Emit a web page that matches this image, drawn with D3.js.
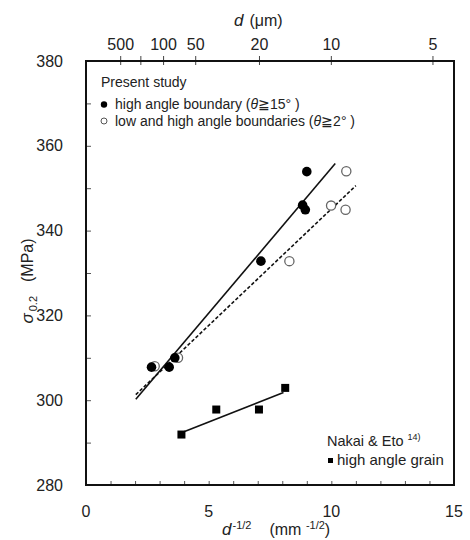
<!DOCTYPE html>
<html><head><meta charset="utf-8">
<script src="https://cdn.jsdelivr.net/npm/d3@7"></script>
<style>body{margin:0;background:#fff}svg{display:block;font-family:"Liberation Sans",Arial,sans-serif}</style>
</head><body><svg id="c" width="470" height="540"></svg>
<script>
// ---- data ----
const highX = [2.67, 3.39, 3.62, 7.13, 8.83, 8.94, 9.00];
const highY = [307.8, 307.8, 310.0, 332.8, 346.0, 344.9, 353.9];
const lowX  = [2.80, 3.75, 8.29, 9.99, 10.58, 10.61];
const lowY  = [308.0, 310.0, 332.8, 345.9, 344.9, 354.0];
const nakaiX = [3.89, 5.31, 7.05, 8.12];
const nakaiY = [291.9, 297.8, 297.8, 302.9];
const highFitX = [2.03, 10.16], highFitY = [300.2, 355.8];
const lowFitX  = [2.03, 11.0],  lowFitY  = [301.3, 350.6];
const nakaiFitX = [3.89, 8.05], nakaiFitY = [292.3, 301.8];
const xTicks = [0, 5, 10, 15];
const yTicks = [280, 300, 320, 340, 360, 380];
const topTicksUm = [500, 200, 100, 50, 20, 10, 5];
const topLabelsUm = ["500", "", "100", "50", "20", "10", "5"];

const svg = d3.select("#c");
const L = 86, R = 454, T = 61, B = 485;
const x = d3.scaleLinear().domain([0, 15]).range([L, R]);
const y = d3.scaleLinear().domain([280, 380]).range([B, T]);

// minor ticks
const xMinor = d3.range(0, 16, 1);
const yMinor = d3.range(280, 381, 10);

// bottom axis (ticks inward)
const gB = svg.append("g").attr("transform", `translate(0,${B})`)
  .call(d3.axisBottom(x).tickValues(xMinor).tickSize(-4).tickFormat(""));
gB.select(".domain").remove();
gB.selectAll("line").attr("stroke", "#555");
svg.append("g").selectAll("text").data(xTicks).join("text")
  .attr("x", d => x(d)).attr("y", 517).attr("text-anchor", "middle")
  .attr("font-size", 16).attr("fill", "#222").text(d => d);

// left axis
const gL = svg.append("g").attr("transform", `translate(${L},0)`)
  .call(d3.axisLeft(y).tickValues(yMinor).tickSize(-5).tickFormat(""));
gL.select(".domain").remove();
gL.selectAll("line").attr("stroke", "#555");
svg.append("g").selectAll("text").data(yTicks).join("text")
  .attr("x", 63).attr("y", d => y(d) + 5.5).attr("text-anchor", "end")
  .attr("font-size", 16).attr("fill", "#222").text(d => d);

// top axis: d in um -> d^-1/2 in mm^-1/2
const topPos = d => x(1 / Math.sqrt(d / 1000));
svg.append("g").selectAll("line").data(topTicksUm).join("line")
  .attr("x1", topPos).attr("x2", topPos).attr("y1", T - 5).attr("y2", T + 4)
  .attr("stroke", "#444").attr("stroke-width", 1);
svg.append("g").selectAll("text").data(topTicksUm).join("text")
  .attr("x", topPos).attr("y", 50).attr("text-anchor", "middle")
  .attr("font-size", 16).attr("fill", "#222").text((d, i) => topLabelsUm[i]);

// frame
svg.append("rect").attr("x", L).attr("y", T).attr("width", R - L).attr("height", B - T)
  .attr("fill", "none").attr("stroke", "#111").attr("stroke-width", 2);

// axis titles
const tt = svg.append("text").attr("x", 234).attr("y", 26).attr("font-size", 16).attr("fill", "#222");
tt.append("tspan").attr("font-style", "italic").attr("font-size", 17).text("d");
tt.append("tspan").attr("dx", 6).text("(μm)");

const xt = svg.append("text").attr("x", 222).attr("y", 535).attr("font-size", 16).attr("fill", "#222");
xt.append("tspan").attr("font-style", "italic").attr("font-size", 17).text("d");
xt.append("tspan").attr("font-size", 11).attr("dy", -6).attr("dx", 1).text("-1/2");
xt.append("tspan").attr("font-size", 16).attr("dy", 6).attr("dx", 18).text("(mm ");
xt.append("tspan").attr("font-size", 11).attr("dy", -6).text("-1/2");
xt.append("tspan").attr("font-size", 16).attr("dy", 6).text(")");

const yt = svg.append("text").attr("transform", "translate(33,281) rotate(-90)")
  .attr("text-anchor", "middle").attr("font-size", 16).attr("fill", "#222");
yt.append("tspan").attr("font-style", "italic").attr("font-size", 17).text("σ");
yt.append("tspan").attr("font-size", 11).attr("dy", 4).attr("dx", 2).text("0.2");
yt.append("tspan").attr("font-size", 16).attr("dy", -4).attr("dx", 14).text("(MPa)");

// fit lines
const line = d3.line().x(d => x(d[0])).y(d => y(d[1]));
const zip = (a, b) => a.map((v, i) => [v, b[i]]);
svg.append("path").attr("d", line(zip(lowFitX, lowFitY))).attr("fill", "none")
  .attr("stroke", "#111").attr("stroke-width", 1.6).attr("stroke-dasharray", "3.5,2");
svg.append("path").attr("d", line(zip(highFitX, highFitY))).attr("fill", "none")
  .attr("stroke", "#111").attr("stroke-width", 1.6);
svg.append("path").attr("d", line(zip(nakaiFitX, nakaiFitY))).attr("fill", "none")
  .attr("stroke", "#111").attr("stroke-width", 1.6);

// points
svg.append("g").selectAll("circle").data(zip(lowX, lowY)).join("circle")
  .attr("cx", d => x(d[0])).attr("cy", d => y(d[1])).attr("r", 4.6)
  .attr("fill", "#fff").attr("stroke", "#666").attr("stroke-width", 1.3);
svg.append("g").selectAll("circle").data(zip(highX, highY)).join("circle")
  .attr("cx", d => x(d[0])).attr("cy", d => y(d[1])).attr("r", 4.8).attr("fill", "#000");
svg.append("g").selectAll("rect").data(zip(nakaiX, nakaiY)).join("rect")
  .attr("x", d => x(d[0]) - 4).attr("y", d => y(d[1]) - 4).attr("width", 8).attr("height", 8)
  .attr("fill", "#000");

// legend top-left
svg.append("text").attr("x", 101).attr("y", 87).attr("font-size", 14).attr("fill", "#222").text("Present study");
svg.append("circle").attr("cx", 104).attr("cy", 104.5).attr("r", 3.2).attr("fill", "#000");
const l1 = svg.append("text").attr("x", 115).attr("y", 109).attr("font-size", 14).attr("fill", "#222");
l1.append("tspan").text("high angle boundary (");
l1.append("tspan").attr("font-style", "italic").text("θ");
l1.append("tspan").text("≧15° )");
svg.append("circle").attr("cx", 104).attr("cy", 121).attr("r", 3).attr("fill", "#fff")
  .attr("stroke", "#555").attr("stroke-width", 1);
const l2 = svg.append("text").attr("x", 115).attr("y", 126).attr("font-size", 14).attr("fill", "#222");
l2.append("tspan").text("low and high angle boundaries (");
l2.append("tspan").attr("font-style", "italic").text("θ");
l2.append("tspan").text("≧2° )");

// legend bottom-right
const n1 = svg.append("text").attr("x", 327).attr("y", 446).attr("font-size", 14.5).attr("fill", "#222");
n1.append("tspan").text("Nakai & Eto ");
n1.append("tspan").attr("font-size", 9).attr("dy", -6).text("14)");
svg.append("rect").attr("x", 328).attr("y", 458).attr("width", 5).attr("height", 5).attr("fill", "#000");
svg.append("text").attr("x", 337).attr("y", 465).attr("font-size", 15).attr("fill", "#222").text("high angle grain");
</script></body></html>
